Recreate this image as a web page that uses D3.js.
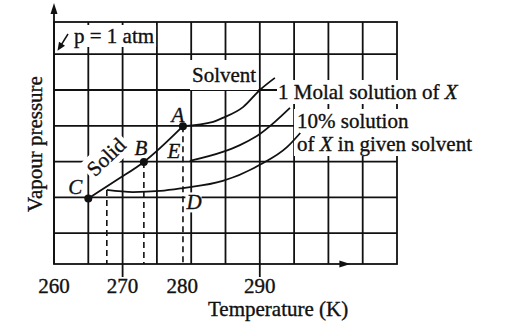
<!DOCTYPE html>
<html>
<head>
<meta charset="utf-8">
<script src="https://cdn.jsdelivr.net/npm/d3@7"></script>
<style>
  body { margin: 0; background: #fff; }
  svg { display: block; }
</style>
</head>
<body>
<div id="chart"></div>
<script>
// temperature axis (K)
const tempTicks = [260, 270, 280, 290];
const tempTickMarks = [270, 290];
const tempGrid = [265, 270, 275, 280, 285, 290, 295, 300, 305];
// vapour pressure has no numbers, only grid rows (arbitrary units)
const pressGrid = [1, 2, 3, 4, 5, 6];

// curves as [temperature, pressure]
const solidCurve = [[265, 1.97], [269.2, 2.49], [273.1, 2.99], [278.8, 3.99]];
const solventCurve = [[278.8, 3.99], [283.2, 4.11], [284.6, 4.22], [287.6, 4.53], [290.0, 5.0], [292.2, 5.34]];
const molalCurve = [[279.8, 3.02], [284.6, 3.27], [287.1, 3.46], [290.0, 3.77], [292.2, 4.11], [294.4, 4.50]];
const tenPctCurve = [[267.7, 2.21], [271.5, 2.15], [275.5, 2.18], [278.8, 2.26], [284.6, 2.46], [290.0, 2.91], [294.0, 3.41], [295.9, 3.80]];

// freezing points dropped to the axis
const dropLines = [[267.7, 2.21], [273.1, 2.99], [278.8, 3.99]];
const dots = [[265, 1.97], [273.1, 2.99], [278.8, 3.99]];
const letters = [
  { name: "A", T: 278.8, p: 3.99 },
  { name: "B", T: 273.1, p: 2.99 },
  { name: "C", T: 265, p: 1.97 },
  { name: "E", T: 278.8, p: 3.0 },
  { name: "D", T: 278.8, p: 2.0 }
];

// where each letter sits relative to its point (px)
const letterOffset = { A: [-5, -4], B: [-3, -7], C: [-13, -4], E: [-9, -4], D: [11, 12] };

const width = 530, height = 326;
const x = d3.scaleLinear([260, 310], [54, 397]);
const y = d3.scaleLinear([0.14, 6.9], [264, 22]);
const ink = "#111";
const font = "'Liberation Serif', 'Times New Roman', serif";

const svg = d3.create("svg")
  .attr("width", width)
  .attr("height", height)
  .attr("viewBox", [0, 0, width, height])
  .attr("font-family", font)
  .attr("font-size", 21)
  .attr("fill", ink);

svg.append("rect").attr("width", width).attr("height", height).attr("fill", "#fff");

// grid
const grid = svg.append("g").attr("stroke", ink).attr("stroke-width", 1.8);
grid.selectAll(".v").data(tempGrid).join("line")
  .attr("x1", d => x(d)).attr("x2", d => x(d))
  .attr("y1", y(0.14)).attr("y2", y(6.9));
grid.selectAll(".h").data(pressGrid).join("line")
  .attr("y1", d => y(d)).attr("y2", d => y(d))
  .attr("x1", x(260)).attr("x2", x(310));
grid.append("rect")
  .attr("x", x(260)).attr("y", y(6.9))
  .attr("width", x(310) - x(260)).attr("height", y(0.14) - y(6.9))
  .attr("fill", "none");

// axes with arrows
grid.append("line").attr("x1", x(260)).attr("x2", x(260)).attr("y1", y(0.14)).attr("y2", 8);
svg.append("path").attr("d", `M${x(260)},3L${x(260) - 3.5},14L${x(260) + 3.5},14Z`);
const ax = x(303.2), ay = y(0.14);
svg.append("path").attr("d", `M${ax},${ay}L${ax - 11},${ay - 3.5}L${ax - 11},${ay + 3.5}Z`);
grid.selectAll(".tick").data(tempTickMarks).join("line")
  .attr("x1", d => x(d)).attr("x2", d => x(d))
  .attr("y1", y(0.14)).attr("y2", y(0.14) + 13);

// text gets a hair of stroke so it reads as heavy as the printed page
const textStyle = t => t.attr("stroke", ink).attr("stroke-width", 0.35);

// tick labels
svg.append("g").attr("text-anchor", "middle").call(textStyle)
  .selectAll("text").data(tempTicks).join("text")
  .attr("x", d => x(d) + (d === 280 ? -9 : 0))
  .attr("y", 293)
  .text(d => d);

svg.append("text").call(textStyle).attr("x", 208).attr("y", 316).text("Temperature (K)");
svg.append("text").call(textStyle)
  .attr("transform", `translate(42,${144}) rotate(-90)`)
  .attr("text-anchor", "middle")
  .text("Vapour pressure");

// labels that sit on a white patch over the grid
function boxedText(g, pad) {
  const b = g.select("text").node().getBBox();
  g.insert("rect", "text")
    .attr("x", b.x - pad[0]).attr("y", b.y - pad[1])
    .attr("width", b.width + 2 * pad[0]).attr("height", b.height + 2 * pad[1])
    .attr("fill", "#fff").attr("stroke", "none");
  return g;
}
const labels = svg.append("g").call(textStyle);
document.getElementById("chart").appendChild(svg.node());

function label(txt, tx, ty, pad, extra) {
  const g = labels.append("g");
  const t = g.append("text").attr("x", tx).attr("y", ty);
  if (extra) extra(t); else t.text(txt);
  return boxedText(g, pad);
}

label("p = 1 atm", 74, 43, [2, -1]);
label("Solvent", 192, 82, [2, 3]);
label(null, 278, 99, [1, 0], t => {
  t.append("tspan").text("1 Molal solution of ");
  t.append("tspan").attr("font-style", "italic").text("X");
});
label("10% solution", 297, 128, [3, 0]);
label(null, 297, 151, [3, 0], t => {
  t.append("tspan").text("of ");
  t.append("tspan").attr("font-style", "italic").text("X");
  t.append("tspan").text(" in given solvent");
});
const solidG = labels.append("g").attr("transform", "translate(111,162) rotate(-44)");
solidG.append("text").attr("text-anchor", "middle").text("Solid");
boxedText(solidG, [3, 1]);

// arrow pointing at the p = 1 atm line
const tipX = x(260) + 3.5, tipY = y(6) - 3.5;
svg.append("line").attr("x1", 68).attr("y1", 34).attr("x2", tipX + 2).attr("y2", tipY - 3)
  .attr("stroke", ink).attr("stroke-width", 1.5);
svg.append("path")
  .attr("d", `M${tipX},${tipY}L${tipX + 1.5},${tipY - 9}L${tipX + 7.5},${tipY - 5}Z`);

// dashed drops
svg.append("g").attr("stroke", ink).attr("stroke-width", 1.6).attr("stroke-dasharray", "6,4")
  .selectAll("line").data(dropLines).join("line")
  .attr("x1", d => x(d[0])).attr("x2", d => x(d[0]))
  .attr("y1", d => y(d[1])).attr("y2", y(0.14));

// curves
const line = d3.line().x(d => x(d[0])).y(d => y(d[1])).curve(d3.curveMonotoneX);
svg.append("g").attr("fill", "none").attr("stroke", ink).attr("stroke-width", 1.8)
  .selectAll("path").data([solidCurve, solventCurve, molalCurve, tenPctCurve]).join("path")
  .attr("d", line);

svg.append("g").selectAll("circle").data(dots).join("circle")
  .attr("cx", d => x(d[0])).attr("cy", d => y(d[1])).attr("r", 4);

// point letters
const lg = svg.append("g").attr("font-style", "italic").attr("text-anchor", "middle").call(textStyle);
letters.forEach(d => {
  const g = lg.append("g");
  g.append("text")
    .attr("x", x(d.T) + letterOffset[d.name][0])
    .attr("y", y(d.p) + letterOffset[d.name][1])
    .text(d.name);
  if (d.name === "D") boxedText(g, [0, -2]);
});
</script>
</body>
</html>
